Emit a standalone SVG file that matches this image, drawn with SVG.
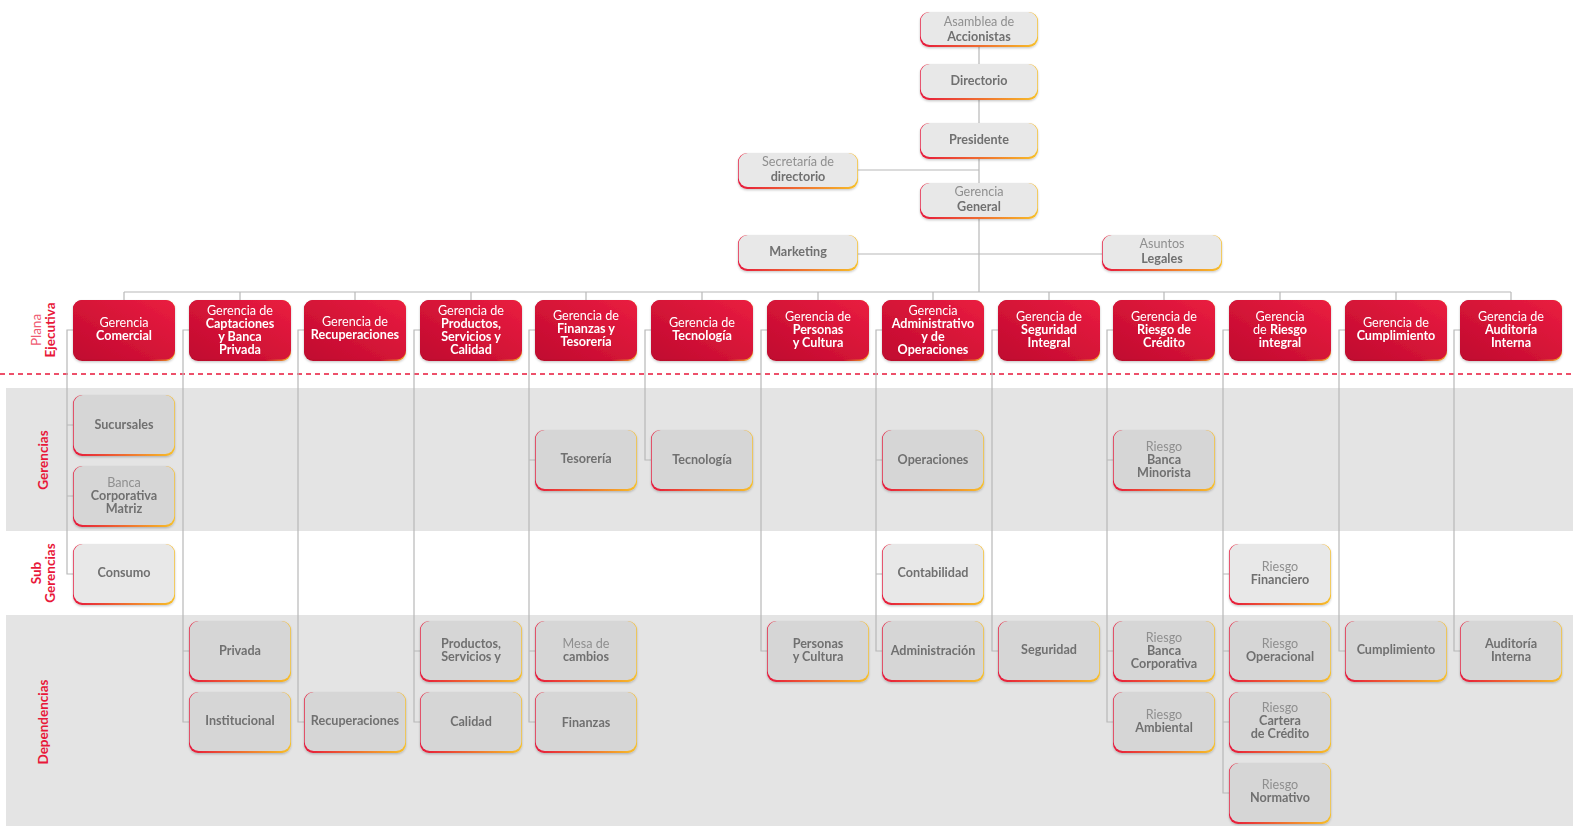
<svg xmlns="http://www.w3.org/2000/svg" width="1573" height="826" viewBox="0 0 1573 826">
<defs>
<linearGradient id="edge" x1="0" y1="0" x2="1" y2="0"><stop offset="0" stop-color="#e6183c"/><stop offset="0.55" stop-color="#f0742e"/><stop offset="1" stop-color="#f7c02a"/></linearGradient>
<linearGradient id="red" x1="0" y1="1" x2="1" y2="0"><stop offset="0" stop-color="#c00a2f"/><stop offset="1" stop-color="#ea1d40"/></linearGradient>
<linearGradient id="redEdge" x1="0" y1="0" x2="1" y2="0"><stop offset="0" stop-color="#b80a2c"/><stop offset="0.75" stop-color="#c8102f"/><stop offset="1" stop-color="#f6b223"/></linearGradient>
<filter id="sh" x="-10%" y="-10%" width="120%" height="135%"><feDropShadow dx="0" dy="1.2" stdDeviation="1.1" flood-color="#000" flood-opacity="0.22"/></filter>
</defs>
<style>
text{font-family:Lato,"Noto Sans","Liberation Sans",sans-serif;font-size:12.6px;text-anchor:middle}
.t{fill:#8f8f8f;font-weight:400}
.b{fill:#707070;font-weight:700}
.hw{fill:#fff;font-weight:400}
.hb{fill:#fff;font-weight:700}
.u{fill:url(#edge)}
.gb{fill:#d6d6d6}
.lb{fill:#e8e8e8}
.hu{fill:url(#redEdge)}
.hf{fill:url(#red)}
.node{filter:url(#sh)}
.lab{fill:#e8173a;font-weight:700;font-size:13.5px}
.labl{fill:#ef5a72;font-weight:400;font-size:13.5px}
#connectors path{fill:none;stroke:#b8b8b8;stroke-width:1.2}
</style>
<g id="bands">
<rect x="6" y="388" width="1567" height="143" fill="#e4e4e4"/>
<rect x="6" y="615" width="1567" height="211" fill="#e4e4e4"/>
<path d="M0 374H1573" stroke="#e8173a" stroke-width="1.3" stroke-dasharray="5 4"/>
</g>
<g id="row-labels">
<text class="labl" transform="translate(0,330) rotate(-90)" x="0" y="41">Plana</text>
<text class="lab" transform="translate(0,330) rotate(-90)" x="0" y="55">Ejecutiva</text>
<text class="lab" transform="translate(0,460) rotate(-90)" x="0" y="48">Gerencias</text>
<text class="lab" transform="translate(0,573) rotate(-90)" x="0" y="41">Sub</text>
<text class="lab" transform="translate(0,573) rotate(-90)" x="0" y="55">Gerencias</text>
<text class="lab" transform="translate(0,722) rotate(-90)" x="0" y="48">Dependencias</text>
</g>
<g id="connectors">
<path d="M979 46V292M858 170H979M858 254H1102"/>
<path d="M124 292H1511M124 292V300M240 292V300M355 292V300M471 292V300M586 292V300M702 292V300M818 292V300M933 292V300M1049 292V300M1164 292V300M1280 292V300M1396 292V300M1511 292V300"/>
<path d="M73 330H67V574H73M67 425H73M67 496H73"/>
<path d="M189 330H183V722H189M183 651H189"/>
<path d="M304 330H298V722H304"/>
<path d="M420 330H414V722H420M414 651H420"/>
<path d="M535 330H529V722H535M529 460H535M529 651H535"/>
<path d="M651 330H645V460H651"/>
<path d="M767 330H761V651H767"/>
<path d="M882 330H876V651H882M876 460H882M876 574H882"/>
<path d="M998 330H992V651H998"/>
<path d="M1113 330H1107V722H1113M1107 460H1113M1107 651H1113"/>
<path d="M1229 330H1223V793H1229M1223 574H1229M1223 651H1229M1223 722H1229"/>
<path d="M1345 330H1339V651H1345"/>
<path d="M1460 330H1454V651H1460"/>
</g>
<g id="top">
<g id="asamblea" class="node"><rect class="u" x="920" y="12" width="118" height="35" rx="9"/><rect class="lb" x="920.7" y="12" width="116.6" height="33" rx="9"/><text class="t" x="979" y="26">Asamblea de</text><text class="b" x="979" y="41">Accionistas</text></g>
<g id="directorio" class="node"><rect class="u" x="920" y="64" width="118" height="36" rx="9"/><rect class="lb" x="920.7" y="64" width="116.6" height="34" rx="9"/><text class="b" x="979" y="85">Directorio</text></g>
<g id="presidente" class="node"><rect class="u" x="920" y="123" width="118" height="36" rx="9"/><rect class="lb" x="920.7" y="123" width="116.6" height="34" rx="9"/><text class="b" x="979" y="144">Presidente</text></g>
<g id="secretaria" class="node"><rect class="u" x="738" y="153" width="120" height="36" rx="9"/><rect class="lb" x="738.7" y="153" width="118.6" height="34" rx="9"/><text class="t" x="798" y="166">Secretaría de</text><text class="b" x="798" y="181">directorio</text></g>
<g id="gerencia-general" class="node"><rect class="u" x="920" y="183" width="118" height="36" rx="9"/><rect class="lb" x="920.7" y="183" width="116.6" height="34" rx="9"/><text class="t" x="979" y="196">Gerencia</text><text class="b" x="979" y="211">General</text></g>
<g id="marketing" class="node"><rect class="u" x="738" y="235" width="120" height="36" rx="9"/><rect class="lb" x="738.7" y="235" width="118.6" height="34" rx="9"/><text class="b" x="798" y="256">Marketing</text></g>
<g id="asuntos-legales" class="node"><rect class="u" x="1102" y="235" width="120" height="36" rx="9"/><rect class="lb" x="1102.7" y="235" width="118.6" height="34" rx="9"/><text class="t" x="1162" y="248">Asuntos</text><text class="b" x="1162" y="263">Legales</text></g>
</g>
<g id="headers">
<g id="h-comercial" class="node"><rect class="hu" x="73" y="300" width="102" height="61" rx="9"/><rect class="hf" x="73" y="300" width="102" height="59.5" rx="9"/><text class="hw" x="124" y="327">Gerencia</text><text class="hb" x="124" y="340">Comercial</text></g>
<g id="h-captaciones" class="node"><rect class="hu" x="189" y="300" width="102" height="61" rx="9"/><rect class="hf" x="189" y="300" width="102" height="59.5" rx="9"/><text class="hw" x="240" y="314.5">Gerencia de</text><text class="hb" x="240" y="327.5">Captaciones</text><text class="hb" x="240" y="340.5">y Banca</text><text class="hb" x="240" y="353.5">Privada</text></g>
<g id="h-recuperaciones" class="node"><rect class="hu" x="304" y="300" width="102" height="61" rx="9"/><rect class="hf" x="304" y="300" width="102" height="59.5" rx="9"/><text class="hw" x="355" y="326">Gerencia de</text><text class="hb" x="355" y="339">Recuperaciones</text></g>
<g id="h-productos" class="node"><rect class="hu" x="420" y="300" width="102" height="61" rx="9"/><rect class="hf" x="420" y="300" width="102" height="59.5" rx="9"/><text class="hw" x="471" y="314.5">Gerencia de</text><text class="hb" x="471" y="327.5">Productos,</text><text class="hb" x="471" y="340.5">Servicios y</text><text class="hb" x="471" y="353.5">Calidad</text></g>
<g id="h-finanzas" class="node"><rect class="hu" x="535" y="300" width="102" height="61" rx="9"/><rect class="hf" x="535" y="300" width="102" height="59.5" rx="9"/><text class="hw" x="586" y="320">Gerencia de</text><text class="hb" x="586" y="333">Finanzas y</text><text class="hb" x="586" y="346">Tesorería</text></g>
<g id="h-tecnologia" class="node"><rect class="hu" x="651" y="300" width="102" height="61" rx="9"/><rect class="hf" x="651" y="300" width="102" height="59.5" rx="9"/><text class="hw" x="702" y="327">Gerencia de</text><text class="hb" x="702" y="340">Tecnología</text></g>
<g id="h-personas" class="node"><rect class="hu" x="767" y="300" width="102" height="61" rx="9"/><rect class="hf" x="767" y="300" width="102" height="59.5" rx="9"/><text class="hw" x="818" y="321">Gerencia de</text><text class="hb" x="818" y="334">Personas</text><text class="hb" x="818" y="347">y Cultura</text></g>
<g id="h-administrativo" class="node"><rect class="hu" x="882" y="300" width="102" height="61" rx="9"/><rect class="hf" x="882" y="300" width="102" height="59.5" rx="9"/><text class="hw" x="933" y="314.5">Gerencia</text><text class="hb" x="933" y="327.5">Administrativo</text><text class="hb" x="933" y="340.5">y de</text><text class="hb" x="933" y="353.5">Operaciones</text></g>
<g id="h-seguridad" class="node"><rect class="hu" x="998" y="300" width="102" height="61" rx="9"/><rect class="hf" x="998" y="300" width="102" height="59.5" rx="9"/><text class="hw" x="1049" y="321">Gerencia de</text><text class="hb" x="1049" y="334">Seguridad</text><text class="hb" x="1049" y="347">Integral</text></g>
<g id="h-riesgo-credito" class="node"><rect class="hu" x="1113" y="300" width="102" height="61" rx="9"/><rect class="hf" x="1113" y="300" width="102" height="59.5" rx="9"/><text class="hw" x="1164" y="321">Gerencia de</text><text class="hb" x="1164" y="334">Riesgo de</text><text class="hb" x="1164" y="347">Crédito</text></g>
<g id="h-riesgo-integral" class="node"><rect class="hu" x="1229" y="300" width="102" height="61" rx="9"/><rect class="hf" x="1229" y="300" width="102" height="59.5" rx="9"/><text class="hw" x="1280" y="321">Gerencia</text><text class="hw" x="1280" y="334"><tspan>de </tspan><tspan class="hb">Riesgo</tspan></text><text class="hb" x="1280" y="347">integral</text></g>
<g id="h-cumplimiento" class="node"><rect class="hu" x="1345" y="300" width="102" height="61" rx="9"/><rect class="hf" x="1345" y="300" width="102" height="59.5" rx="9"/><text class="hw" x="1396" y="327">Gerencia de</text><text class="hb" x="1396" y="340">Cumplimiento</text></g>
<g id="h-auditoria" class="node"><rect class="hu" x="1460" y="300" width="102" height="61" rx="9"/><rect class="hf" x="1460" y="300" width="102" height="59.5" rx="9"/><text class="hw" x="1511" y="321">Gerencia de</text><text class="hb" x="1511" y="334">Auditoría</text><text class="hb" x="1511" y="347">Interna</text></g>
</g>
<g id="units">
<g id="sucursales" class="node"><rect class="u" x="73" y="395" width="102" height="61" rx="9"/><rect class="gb" x="73.7" y="395" width="100.6" height="59" rx="9"/><text class="b" x="124" y="429">Sucursales</text></g>
<g id="banca-corporativa-matriz" class="node"><rect class="u" x="73" y="466" width="102" height="61" rx="9"/><rect class="gb" x="73.7" y="466" width="100.6" height="59" rx="9"/><text class="t" x="124" y="486.5">Banca</text><text class="b" x="124" y="499.5">Corporativa</text><text class="b" x="124" y="512.5">Matriz</text></g>
<g id="consumo" class="node"><rect class="u" x="73" y="544" width="102" height="61" rx="9"/><rect class="lb" x="73.7" y="544" width="100.6" height="59" rx="9"/><text class="b" x="124" y="577">Consumo</text></g>
<g id="privada" class="node"><rect class="u" x="189" y="621" width="102" height="61" rx="9"/><rect class="gb" x="189.7" y="621" width="100.6" height="59" rx="9"/><text class="b" x="240" y="655">Privada</text></g>
<g id="institucional" class="node"><rect class="u" x="189" y="692" width="102" height="61" rx="9"/><rect class="gb" x="189.7" y="692" width="100.6" height="59" rx="9"/><text class="b" x="240" y="725">Institucional</text></g>
<g id="recuperaciones" class="node"><rect class="u" x="304" y="692" width="102" height="61" rx="9"/><rect class="gb" x="304.7" y="692" width="100.6" height="59" rx="9"/><text class="b" x="355" y="725">Recuperaciones</text></g>
<g id="productos-servicios" class="node"><rect class="u" x="420" y="621" width="102" height="61" rx="9"/><rect class="gb" x="420.7" y="621" width="100.6" height="59" rx="9"/><text class="b" x="471" y="647.5">Productos,</text><text class="b" x="471" y="660.5">Servicios y</text></g>
<g id="calidad" class="node"><rect class="u" x="420" y="692" width="102" height="61" rx="9"/><rect class="gb" x="420.7" y="692" width="100.6" height="59" rx="9"/><text class="b" x="471" y="726">Calidad</text></g>
<g id="tesoreria" class="node"><rect class="u" x="535" y="430" width="102" height="61" rx="9"/><rect class="gb" x="535.7" y="430" width="100.6" height="59" rx="9"/><text class="b" x="586" y="463">Tesorería</text></g>
<g id="mesa-cambios" class="node"><rect class="u" x="535" y="621" width="102" height="61" rx="9"/><rect class="gb" x="535.7" y="621" width="100.6" height="59" rx="9"/><text class="t" x="586" y="647.5">Mesa de</text><text class="b" x="586" y="660.5">cambios</text></g>
<g id="finanzas" class="node"><rect class="u" x="535" y="692" width="102" height="61" rx="9"/><rect class="gb" x="535.7" y="692" width="100.6" height="59" rx="9"/><text class="b" x="586" y="727">Finanzas</text></g>
<g id="tecnologia" class="node"><rect class="u" x="651" y="430" width="102" height="61" rx="9"/><rect class="gb" x="651.7" y="430" width="100.6" height="59" rx="9"/><text class="b" x="702" y="464">Tecnología</text></g>
<g id="personas-cultura" class="node"><rect class="u" x="767" y="621" width="102" height="61" rx="9"/><rect class="gb" x="767.7" y="621" width="100.6" height="59" rx="9"/><text class="b" x="818" y="647.5">Personas</text><text class="b" x="818" y="660.5">y Cultura</text></g>
<g id="operaciones" class="node"><rect class="u" x="882" y="430" width="102" height="61" rx="9"/><rect class="gb" x="882.7" y="430" width="100.6" height="59" rx="9"/><text class="b" x="933" y="464">Operaciones</text></g>
<g id="contabilidad" class="node"><rect class="u" x="882" y="544" width="102" height="61" rx="9"/><rect class="lb" x="882.7" y="544" width="100.6" height="59" rx="9"/><text class="b" x="933" y="577">Contabilidad</text></g>
<g id="administracion" class="node"><rect class="u" x="882" y="621" width="102" height="61" rx="9"/><rect class="gb" x="882.7" y="621" width="100.6" height="59" rx="9"/><text class="b" x="933" y="655">Administración</text></g>
<g id="seguridad" class="node"><rect class="u" x="998" y="621" width="102" height="61" rx="9"/><rect class="gb" x="998.7" y="621" width="100.6" height="59" rx="9"/><text class="b" x="1049" y="654">Seguridad</text></g>
<g id="riesgo-banca-minorista" class="node"><rect class="u" x="1113" y="430" width="102" height="61" rx="9"/><rect class="gb" x="1113.7" y="430" width="100.6" height="59" rx="9"/><text class="t" x="1164" y="450.5">Riesgo</text><text class="b" x="1164" y="463.5">Banca</text><text class="b" x="1164" y="476.5">Minorista</text></g>
<g id="riesgo-banca-corporativa" class="node"><rect class="u" x="1113" y="621" width="102" height="61" rx="9"/><rect class="gb" x="1113.7" y="621" width="100.6" height="59" rx="9"/><text class="t" x="1164" y="641.5">Riesgo</text><text class="b" x="1164" y="654.5">Banca</text><text class="b" x="1164" y="667.5">Corporativa</text></g>
<g id="riesgo-ambiental" class="node"><rect class="u" x="1113" y="692" width="102" height="61" rx="9"/><rect class="gb" x="1113.7" y="692" width="100.6" height="59" rx="9"/><text class="t" x="1164" y="718.5">Riesgo</text><text class="b" x="1164" y="731.5">Ambiental</text></g>
<g id="riesgo-financiero" class="node"><rect class="u" x="1229" y="544" width="102" height="61" rx="9"/><rect class="lb" x="1229.7" y="544" width="100.6" height="59" rx="9"/><text class="t" x="1280" y="570.5">Riesgo</text><text class="b" x="1280" y="583.5">Financiero</text></g>
<g id="riesgo-operacional" class="node"><rect class="u" x="1229" y="621" width="102" height="61" rx="9"/><rect class="gb" x="1229.7" y="621" width="100.6" height="59" rx="9"/><text class="t" x="1280" y="647.5">Riesgo</text><text class="b" x="1280" y="660.5">Operacional</text></g>
<g id="riesgo-cartera" class="node"><rect class="u" x="1229" y="692" width="102" height="61" rx="9"/><rect class="gb" x="1229.7" y="692" width="100.6" height="59" rx="9"/><text class="t" x="1280" y="712">Riesgo</text><text class="b" x="1280" y="725">Cartera</text><text class="b" x="1280" y="738">de Crédito</text></g>
<g id="riesgo-normativo" class="node"><rect class="u" x="1229" y="763" width="102" height="61" rx="9"/><rect class="gb" x="1229.7" y="763" width="100.6" height="59" rx="9"/><text class="t" x="1280" y="788.5">Riesgo</text><text class="b" x="1280" y="801.5">Normativo</text></g>
<g id="cumplimiento" class="node"><rect class="u" x="1345" y="621" width="102" height="61" rx="9"/><rect class="gb" x="1345.7" y="621" width="100.6" height="59" rx="9"/><text class="b" x="1396" y="654">Cumplimiento</text></g>
<g id="auditoria-interna" class="node"><rect class="u" x="1460" y="621" width="102" height="61" rx="9"/><rect class="gb" x="1460.7" y="621" width="100.6" height="59" rx="9"/><text class="b" x="1511" y="647.5">Auditoría</text><text class="b" x="1511" y="660.5">Interna</text></g>
</g>
</svg>
